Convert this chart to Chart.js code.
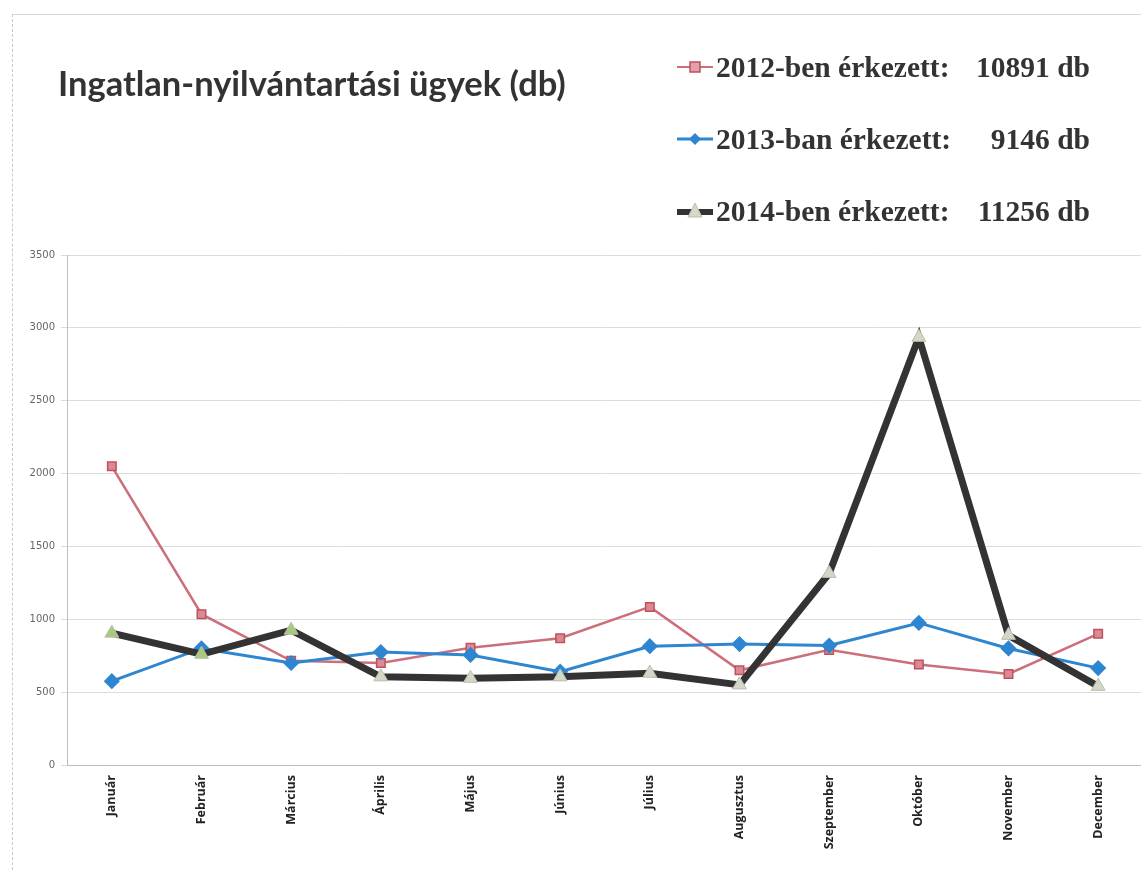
<!DOCTYPE html>
<html>
<head>
<meta charset="utf-8">
<script src="https://cdn.jsdelivr.net/npm/chart.js@4.4.1/dist/chart.umd.min.js"></script>
<style>
  html, body { margin: 0; padding: 0; background: #fff; }
  #wrap { position: relative; width: 1141px; height: 870px; overflow: hidden; }
  #chart { position: absolute; left: 0; top: 0; }
  #frame { position: absolute; left: 12px; top: 14px; width: 1140px; height: 870px;
           border-left: 1px dashed #c8c8c8; border-top: 1px solid #d8d8d8; }
  #title { position: absolute; left: 58px; top: 62px; font-family: Lato, "Open Sans", sans-serif;
           font-weight: bold; font-size: 34.5px; color: #333; white-space: nowrap; }
  #legend { position: absolute; left: 676px; top: 47px; width: 414px;
            font-family: "Liberation Serif", "DejaVu Serif", serif; font-weight: bold;
            font-size: 29.5px; color: #333; }
  .row { display: flex; align-items: center; height: 40px; margin-bottom: 32px; }
  .row svg { flex: none; margin-right: 2px; }
  .lab { flex: 1; white-space: nowrap; }
  .num { white-space: nowrap; }
</style>
</head>
<body>
<div id="wrap">
  <div id="frame"></div>
  <canvas id="chart" width="1152" height="870"></canvas>
  <div id="title">Ingatlan-nyilvántartási ügyek (db)</div>
  <div id="legend"></div>
</div>
<script>
// ================================
// DATA
// ================================
const months = ["Január", "Február", "Március", "Április", "Május", "Június",
                "Július", "Augusztus", "Szeptember", "Október", "November", "December"];

const series2012 = [2050, 1035, 715, 700, 805, 870, 1085, 650, 790, 690, 625, 900];
const series2013 = [575, 800, 700, 775, 755, 640, 815, 830, 820, 975, 800, 665];
const series2014 = [905, 760, 925, 605, 595, 605, 630, 550, 1315, 2935, 890, 540];

const legendLabels = ["2012-ben érkezett:", "2013-ban érkezett:", "2014-ben érkezett:"];
const legendTotals = ["10891 db", "9146 db", "11256 db"];

const yMax = 3500;
const yStep = 500;

// ================================
// LEGEND (html, top right)
// ================================
const legendIcons = [
    '<svg width="38" height="20"><line x1="1" y1="10" x2="37" y2="10" stroke="#cc6f7a" stroke-width="2"/>' +
        '<rect x="14" y="5" width="10" height="10" fill="#e3a0a8" stroke="#c0505d" stroke-width="1.5"/></svg>',
    '<svg width="38" height="20"><line x1="1" y1="10" x2="37" y2="10" stroke="#2f86d0" stroke-width="3"/>' +
        '<polygon points="19,4 25,10 19,16 13,10" fill="#2f86d0"/></svg>',
    '<svg width="38" height="20"><line x1="1" y1="11" x2="37" y2="11" stroke="#333" stroke-width="6"/>' +
        '<polygon points="19,2 26,16 12,16" fill="#d5d9c9" stroke="#b9bfaa" stroke-width="1"/></svg>'
];

const legendEl = document.getElementById("legend");
legendLabels.forEach((label, i) => {
    const row = document.createElement("div");
    row.className = "row";
    row.innerHTML = legendIcons[i] + '<span class="lab">' + label + '</span><span class="num">' + legendTotals[i] + '</span>';
    legendEl.appendChild(row);
});

// ================================
// CHART
// ================================
const tri2014Color = ctx => ctx.dataIndex < 3 ? "#a8c97e" : "#d3d7c8";

new Chart(document.getElementById("chart"), {
    type: "line",
    data: {
        labels: months,
        datasets: [
            {
                label: legendLabels[0],
                data: series2012,
                borderColor: "#cc6f7a",
                borderWidth: 2.5,
                pointStyle: "rect",
                pointRadius: 6,
                pointBackgroundColor: "#d98a94",
                pointBorderColor: "#c0505d",
                pointBorderWidth: 1.5,
                order: 2
            },
            {
                label: legendLabels[1],
                data: series2013,
                borderColor: "#2f86d0",
                borderWidth: 3,
                pointStyle: "rectRot",
                pointRadius: 6,
                pointBackgroundColor: "#2f86d0",
                pointBorderColor: "#2f86d0",
                order: 1
            },
            {
                label: legendLabels[2],
                data: series2014,
                borderColor: "#333333",
                borderWidth: 7,
                pointStyle: "triangle",
                pointRadius: 8,
                pointBackgroundColor: tri2014Color,
                pointBorderColor: "#b9bfaa",
                pointBorderWidth: 1,
                order: 0
            }
        ]
    },
    options: {
        responsive: false,
        animation: false,
        layout: { padding: { top: 255, left: 12, right: 0, bottom: 6 } },
        plugins: {
            legend: { display: false },
            title: { display: false },
            tooltip: { enabled: false }
        },
        scales: {
            x: {
                offset: true,
                grid: { display: false },
                border: { color: "#bdbdbd" },
                ticks: {
                    minRotation: 90,
                    maxRotation: 90,
                    padding: 2,
                    color: "#222",
                    font: { family: "'Open Sans', sans-serif", size: 12.5, weight: "bold" }
                },
                afterFit: scale => { scale.height = 99; }
            },
            y: {
                min: 0,
                max: yMax,
                grid: { color: "#dcdcdc", tickLength: 6 },
                border: { color: "#bdbdbd" },
                ticks: {
                    stepSize: yStep,
                    padding: 6,
                    color: "#666",
                    font: { family: "'DejaVu Sans', sans-serif", size: 10 },
                    callback: v => String(v)
                },
                afterFit: scale => { scale.width = 55; }
            }
        }
    }
});
</script>
</body>
</html>
